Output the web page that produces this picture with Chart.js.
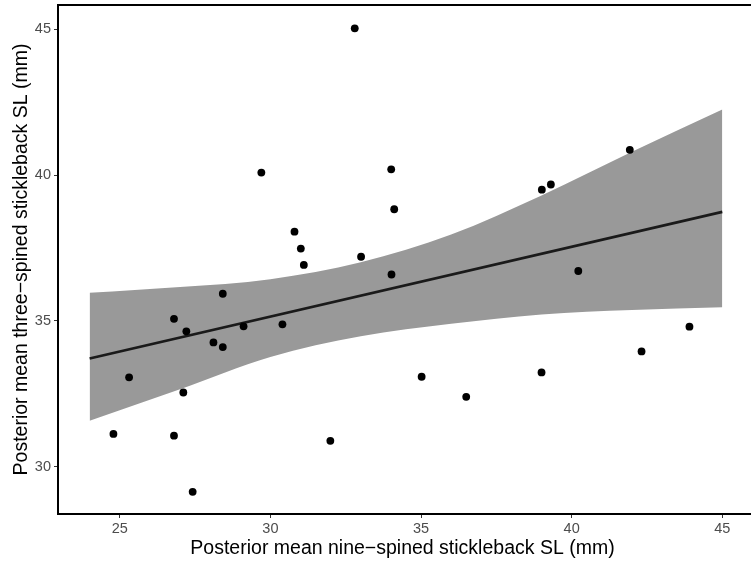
<!DOCTYPE html>
<html>
<head>
<meta charset="utf-8">
<script src="https://cdn.jsdelivr.net/npm/chart.js@4.4.1/dist/chart.umd.min.js"></script>
<style>
    html, body { margin: 0; padding: 0; background: #fff; }
    #chart { display: block; }
</style>
</head>
<body>
<canvas id="chart" width="751" height="569"></canvas>
<script>
// Observed posterior means (nine-spined vs three-spined)
const pointX = [28.42, 26.80, 27.21, 28.11, 28.42, 29.11, 25.31, 27.11, 24.79, 26.80, 27.42,
                30.40, 35.02, 36.50, 31.99, 32.80, 29.70, 34.01, 34.11, 30.80, 31.01, 31.11,
                33.01, 34.02, 39.01, 39.31, 41.93, 40.22, 39.00, 42.32, 43.91];
const pointY = [35.93, 35.07, 34.64, 34.26, 34.10, 34.81, 33.06, 32.54, 31.12, 31.06, 29.13,
                34.88, 33.08, 32.39, 30.88, 45.04, 40.09, 40.20, 38.83, 38.06, 37.48, 36.92,
                37.20, 36.59, 39.50, 39.68, 40.87, 36.71, 33.23, 33.95, 34.80];

// Fitted line and its band
const lineX = [24, 45];
const lineY = [33.71, 38.74];
const bandX = [24, 27, 30, 33, 36, 39, 42, 45];
const bandUpper = [35.96, 36.16, 36.43, 37.01, 37.96, 39.30, 40.80, 42.25];
const bandLower = [31.57, 32.65, 33.76, 34.47, 34.90, 35.22, 35.37, 35.47];

const xTicks = [25, 30, 35, 40, 45];
const yTicks = [30, 35, 40, 45];

const toXY = (xs, ys) => xs.map((x, i) => ({ x: x, y: ys[i] }));

const FONT = '"Liberation Sans", Arial, Helvetica, sans-serif';

// top border, and the axis lines run on to the right edge of the image
const panelLines = {
    id: 'panelLines',
    afterDraw(chart) {
        const { ctx, chartArea } = chart;
        ctx.save();
        ctx.strokeStyle = '#000';
        ctx.lineWidth = 2;
        ctx.beginPath();
        ctx.moveTo(chartArea.left - 1, chartArea.top);
        ctx.lineTo(chart.width, chartArea.top);
        ctx.moveTo(chartArea.right - 1, chartArea.bottom);
        ctx.lineTo(chart.width, chartArea.bottom);
        ctx.stroke();
        ctx.restore();
    }
};

new Chart(document.getElementById('chart'), {
    type: 'scatter',
    data: {
        datasets: [
            {
                data: toXY(pointX, pointY),
                backgroundColor: '#000',
                borderWidth: 0,
                pointRadius: 3.9,
                order: 0
            },
            {
                data: toXY(lineX, lineY),
                showLine: true,
                borderColor: '#1a1a1a',
                borderWidth: 2.6,
                pointRadius: 0,
                order: 1
            },
            {
                data: toXY(bandX, bandUpper),
                showLine: true,
                borderWidth: 0,
                pointRadius: 0,
                backgroundColor: '#999999',
                fill: '+1',
                cubicInterpolationMode: 'monotone',
                order: 2
            },
            {
                data: toXY(bandX, bandLower),
                showLine: true,
                borderWidth: 0,
                pointRadius: 0,
                cubicInterpolationMode: 'monotone',
                order: 3
            }
        ]
    },
    options: {
        responsive: false,
        animation: false,
        layout: { padding: { top: 5, left: 0, right: 0, bottom: 0 } },
        plugins: {
            legend: { display: false },
            tooltip: { enabled: false }
        },
        scales: {
            x: {
                type: 'linear',
                min: 22.95,
                max: 45.82,
                afterBuildTicks: s => { s.ticks = xTicks.map(v => ({ value: v })); },
                afterFit: s => { s.height = 55; s.paddingLeft = 0; s.paddingRight = 0; },
                grid: { drawOnChartArea: false, drawTicks: true, tickLength: 4, tickColor: '#333', lineWidth: 1 },
                border: { display: true, color: '#000', width: 2 },
                ticks: { color: '#4d4d4d', padding: 2, maxRotation: 0, font: { family: FONT, size: 14.5 } },
                title: {
                    display: true,
                    text: 'Posterior mean nine\u2212spined stickleback SL (mm)',
                    color: '#000',
                    font: { family: FONT, size: 19.5 },
                    padding: { top: 0, bottom: 9 }
                }
            },
            y: {
                type: 'linear',
                min: 28.37,
                max: 45.84,
                afterBuildTicks: s => { s.ticks = yTicks.map(v => ({ value: v })); },
                afterFit: s => { s.width = 58; s.paddingTop = 0; s.paddingBottom = 0; },
                grid: { drawOnChartArea: false, drawTicks: true, tickLength: 4, tickColor: '#333', lineWidth: 1 },
                border: { display: true, color: '#000', width: 2 },
                ticks: { color: '#4d4d4d', padding: 3, font: { family: FONT, size: 14.5 } },
                title: {
                    display: true,
                    text: 'Posterior mean three\u2212spined stickleback SL (mm)',
                    color: '#000',
                    font: { family: FONT, size: 19.5 },
                    padding: { top: 10, bottom: 0 }
                }
            }
        }
    },
    plugins: [panelLines]
});
</script>
</body>
</html>
